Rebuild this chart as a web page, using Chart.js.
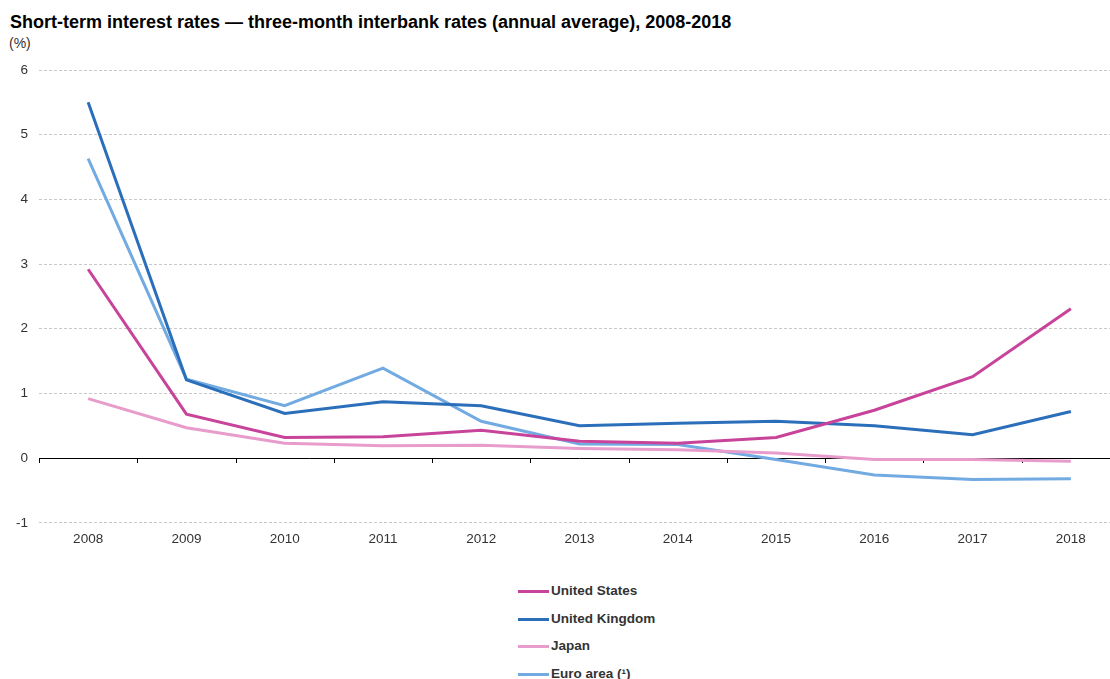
<!DOCTYPE html>
<html>
<head>
<meta charset="utf-8">
<script src="https://cdn.jsdelivr.net/npm/chart.js@4"></script>
<style>
  body { margin: 0; width: 1110px; height: 679px; overflow: hidden; background: #fff; font-family: "Liberation Sans", Arial, sans-serif; position: relative; }
  #title { position: absolute; left: 10px; top: 12px; font-size: 18px; font-weight: bold; color: #000; white-space: nowrap; }
  #unit { position: absolute; left: 9px; top: 35px; font-size: 14px; color: #333; }
  #wrap { position: absolute; left: 0; top: 0; width: 1120px; height: 555px; }
  #legend { position: absolute; left: 518px; top: 583px; }
  .item { height: 27.5px; display: flex; align-items: flex-start; font-size: 13.5px; font-weight: bold; color: #333; line-height: 16px; }
  .swatch { width: 31px; height: 3px; margin-top: 7px; margin-right: 2px; }
</style>
</head>
<body>
<div id="title">Short-term interest rates — three-month interbank rates (annual average), 2008-2018</div>
<div id="unit">(%)</div>
<div id="wrap"><canvas id="rates"></canvas></div>
<div id="legend"></div>
<script>
// Data

let years = ["2008", "2009", "2010", "2011", "2012", "2013", "2014", "2015", "2016", "2017", "2018"];

let labelUs = "United States";
let dataUs = [2.92, 0.68, 0.32, 0.33, 0.43, 0.26, 0.23, 0.32, 0.74, 1.26, 2.31];

let labelUk = "United Kingdom";
let dataUk = [5.50, 1.21, 0.69, 0.87, 0.81, 0.50, 0.54, 0.57, 0.50, 0.36, 0.72];

let labelJapan = "Japan";
let dataJapan = [0.92, 0.47, 0.23, 0.19, 0.20, 0.15, 0.13, 0.08, -0.02, -0.02, -0.05];

let labelEuro = "Euro area (¹)";
let dataEuro = [4.63, 1.22, 0.81, 1.39, 0.57, 0.22, 0.21, -0.02, -0.26, -0.33, -0.32];

let yTicks = [-1, 0, 1, 2, 3, 4, 5, 6];

// Zero line with tick marks between years
const zeroAxis = {
	id: "zeroAxis",
	beforeDatasetsDraw(chart) {
		let ctx = chart.ctx;
		let x = chart.scales.x;
		let y0 = Math.round(chart.scales.y.getPixelForValue(0));
		let step = x.getPixelForValue(1) - x.getPixelForValue(0);
		ctx.save();
		ctx.strokeStyle = "#000";
		ctx.lineWidth = 1;
		ctx.beginPath();
		ctx.moveTo(chart.chartArea.left, y0 + 0.5);
		ctx.lineTo(chart.chartArea.right, y0 + 0.5);
		for (let i = 0; i <= years.length; i++) {
			let px = Math.round(x.getPixelForValue(i) - step / 2) + 0.5;
			ctx.moveTo(px, y0);
			ctx.lineTo(px, y0 + 5);
		}
		ctx.stroke();
		ctx.restore();
	}
};

function line(label, data, color) {
	return {
		label: label,
		data: data,
		borderColor: color,
		backgroundColor: color,
		borderWidth: 3,
		pointRadius: 0,
		tension: 0,
		fill: false
	};
}

let datasets = [
	line(labelUs, dataUs, "#c8439a"),
	line(labelUk, dataUk, "#2b6fba"),
	line(labelJapan, dataJapan, "#e79ccb"),
	line(labelEuro, dataEuro, "#72aae2")
];

var ratesChart = new Chart(document.getElementById("rates"), {
	type: "line",
	data: { labels: years, datasets: datasets },
	options: {
		responsive: true,
		maintainAspectRatio: false,
		animation: false,
		layout: { padding: { top: 70, left: 5, right: 0, bottom: 0 } },
		plugins: { legend: { display: false }, tooltip: { enabled: false } },
		scales: {
			x: {
				offset: true,
				grid: { display: false, drawTicks: false },
				border: { display: false },
				ticks: { color: "#333", font: { family: "Liberation Sans", size: 13.5 }, padding: 8 }
			},
			y: {
				min: -1,
				max: 6,
				afterBuildTicks: axis => { axis.ticks = yTicks.map(v => ({ value: v })); },
				grid: {
					color: c => c.tick.value === 0 ? "rgba(0,0,0,0)" : "#c8c8c8",
					drawTicks: false
				},
				border: { display: false, dash: [3, 2] },
				ticks: { color: "#333", font: { family: "Liberation Sans", size: 13.5 }, padding: 11 }
			}
		}
	},
	plugins: [zeroAxis]
});

// HTML legend, one item per row
let legend = document.getElementById("legend");
datasets.forEach(ds => {
	let item = document.createElement("div");
	item.className = "item";
	item.innerHTML = '<span class="swatch" style="background:' + ds.borderColor + '"></span><span>' + ds.label + '</span>';
	legend.appendChild(item);
});
</script>
</body>
</html>
